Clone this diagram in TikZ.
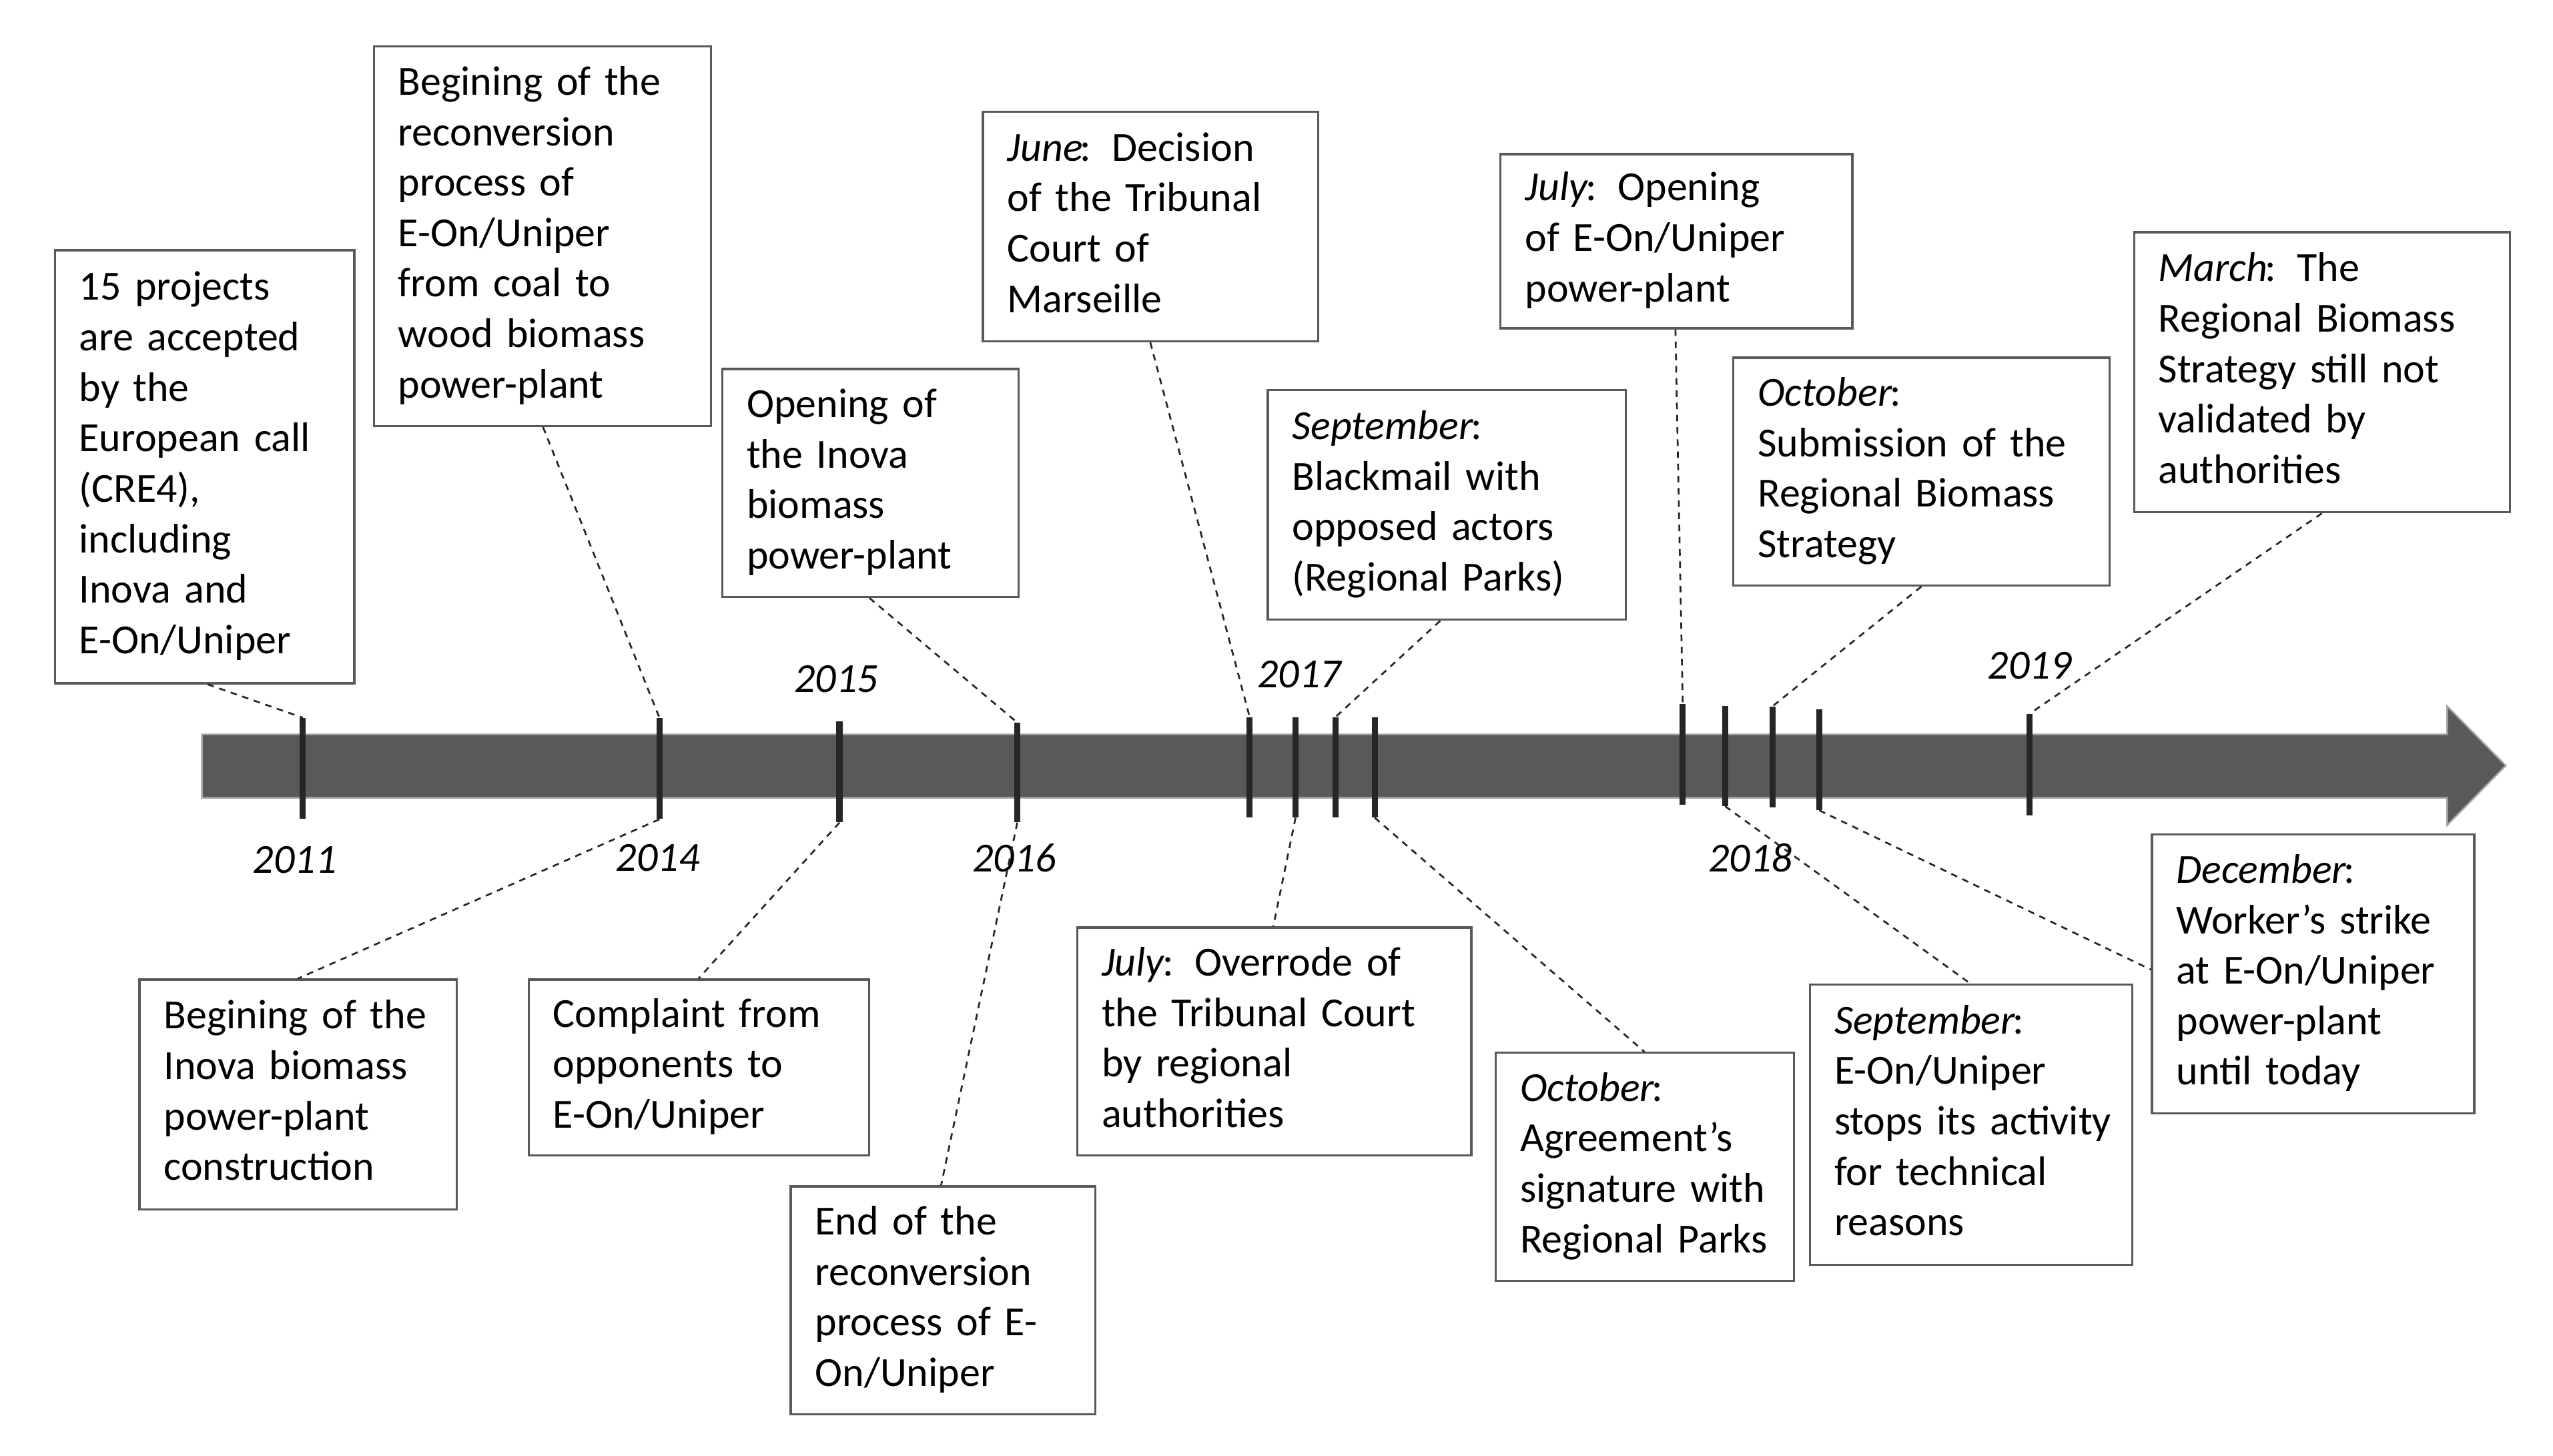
\documentclass[tikz,border=0pt]{standalone}
\usepackage{fontspec}
\setmainfont{Carlito}
\usetikzlibrary{calc}
\definecolor{shaft}{HTML}{595959}
\definecolor{shaftedge}{HTML}{A6A6A6}
\definecolor{boxline}{HTML}{595959}
\definecolor{tickc}{HTML}{262626}
\newcommand{\evtext}[1]{\begin{tabular}{@{}l@{}}#1\end{tabular}}
\newcommand{\mon}[1]{{\itshape #1\/}\kern-1.5pt}
\begin{document}
\begin{tikzpicture}[x=1pt,y=-1pt,
  evbox/.style={draw=boxline, line width=1.3pt, anchor=north west, inner xsep=15pt, inner ysep=0pt,
    font=\fontsize{25.4}{31}\selectfont, text=black},
  tickmark/.style={fill=tickc, draw=none, inner sep=0pt, minimum width=3.8pt, rectangle},
  conn/.style={draw=black!85, line width=1.1pt, dash pattern=on 4pt off 3.5pt},
  yr/.style={font=\fontsize{25.4}{31}\selectfont\itshape, inner sep=0pt}
]
\useasboundingbox (0,0) rectangle (1568,894);
\fill[white] (0,0) rectangle (1568,894);

% timeline arrow
\path[fill=shaft, draw=shaftedge, line width=1pt]
  (124,451) -- (1503,451) -- (1503,433.7) -- (1539,470.2) -- (1503,506.8) -- (1503,490) -- (124,490) -- cycle;

% ticks
\node[tickmark, minimum height=62pt] (t2011) at (186,472) {};
\node[tickmark, minimum height=62pt] (t2014) at (405,472) {};
\node[tickmark, minimum height=62pt] (t2015) at (515.6,474) {};
\node[tickmark, minimum height=61pt] (t2016) at (624.8,474.5) {};
\node[tickmark, minimum height=61.4pt] (t17a) at (767.5,471.3) {};
\node[tickmark, minimum height=61.4pt] (t17b) at (795.7,471.3) {};
\node[tickmark, minimum height=61.4pt] (t17c) at (820.2,471.3) {};
\node[tickmark, minimum height=61.4pt] (t17d) at (844.3,471.3) {};
\node[tickmark, minimum height=62pt] (t18a) at (1033.5,463.4) {};
\node[tickmark, minimum height=61.3pt] (t18b) at (1059.5,464.3) {};
\node[tickmark, minimum height=62pt] (t18c) at (1088.6,465) {};
\node[tickmark, minimum height=62pt] (t18d) at (1117.3,466.5) {};
\node[tickmark, minimum height=62.2pt] (t2019) at (1246.6,469.6) {};

% year labels
\node[yr] (y2011) at (181,528) {2011};
\node[yr] (y2014) at (404,527) {2014};
\node[yr] (y2015) at (513.5,417) {2015};
\node[yr] (y2016) at (623,527) {2016};
\node[yr] (y2017) at (798,414) {2017};
\node[yr] (y2018) at (1075,527) {2018};
\node[yr] (y2019) at (1246.5,409) {2019};

% boxes above
\node[evbox, text width=154pt, minimum width=184pt, minimum height=266pt] (b1) at (33,153)
  {\evtext{15 projects\\are accepted\\by the\\European call\\(CRE4),\\including\\Inova and\\E-On/Uniper}};
\node[evbox, text width=177pt, minimum width=207pt, minimum height=233pt] (b2) at (229,28)
  {\evtext{Begining of the\\reconversion\\process of\\E-On/Uniper\\from coal to\\wood biomass\\power-plant}};
\node[evbox, text width=152pt, minimum width=182pt, minimum height=140pt] (b3) at (443,226)
  {\evtext{Opening of\\the Inova\\biomass\\power-plant}};
\node[evbox, text width=176pt, minimum width=206pt, minimum height=141pt] (b4) at (603,68)
  {\evtext{\mon{June}: Decision\\of the Tribunal\\Court of\\Marseille}};
\node[evbox, text width=186pt, minimum width=216pt, minimum height=107pt] (b5) at (921,94)
  {\evtext{\mon{July}: Opening\\of E-On/Uniper\\power-plant}};
\node[evbox, text width=190pt, minimum width=220pt, minimum height=141pt] (b6) at (778,239)
  {\evtext{\mon{September}:\\Blackmail with\\opposed actors\\(Regional Parks)}};
\node[evbox, text width=201pt, minimum width=231pt, minimum height=140pt] (b7) at (1064,219)
  {\evtext{\mon{October}:\\Submission of the\\Regional Biomass\\Strategy}};
\node[evbox, text width=201pt, minimum width=231pt, minimum height=172pt] (b8) at (1310,142)
  {\evtext{\mon{March}: The\\Regional Biomass\\Strategy still not\\validated by\\authorities}};

% boxes below
\node[evbox, text width=165pt, minimum width=195pt, minimum height=141pt] (b9) at (85,601)
  {\evtext{Begining of the\\Inova biomass\\power-plant\\construction}};
\node[evbox, text width=179pt, minimum width=209pt, minimum height=108pt] (b10) at (324,601)
  {\evtext{Complaint from\\opponents to\\E-On/Uniper}};
\node[evbox, text width=157pt, minimum width=187pt, minimum height=140pt] (b11) at (485,728)
  {\evtext{End of the\\reconversion\\process of E-\\On/Uniper}};
\node[evbox, text width=212pt, minimum width=242pt, minimum height=140pt] (b12) at (661,569)
  {\evtext{\mon{July}: Overrode of\\the Tribunal Court\\by regional\\authorities}};
\node[evbox, text width=153pt, minimum width=183pt, minimum height=140pt] (b13) at (918,646)
  {\evtext{\mon{October}:\\Agreement’s\\signature with\\Regional Parks}};
\node[evbox, text width=168pt, minimum width=198pt, minimum height=172pt] (b14) at (1111,604)
  {\evtext{\mon{September}:\\E-On/Uniper\\stops its activity\\for technical\\reasons}};
\node[evbox, text width=168pt, minimum width=198pt, minimum height=171pt] (b15) at (1321,512)
  {\evtext{\mon{December}:\\Worker’s strike\\at E-On/Uniper\\power-plant\\until today}};

% connectors above
\draw[conn] ([xshift=94.5pt]b1.south west) -- (t2011.north);
\draw[conn] ([xshift=104.5pt]b2.south west) -- (t2014.north);
\draw[conn] ([xshift=91pt]b3.south west) -- (t2016.north);
\draw[conn] ([xshift=103.5pt]b4.south west) -- (t17a.north);
\draw[conn] ([xshift=106.5pt]b6.south west) -- (t17c.north);
\draw[conn] ([xshift=108pt]b5.south west) -- (t18a.north);
\draw[conn] ([xshift=116pt]b7.south west) -- (t18c.north);
\draw[conn] ([xshift=116pt]b8.south west) -- (t2019.north);

% connectors below
\draw[conn] (t2014.south) -- ([xshift=98pt]b9.north west);
\draw[conn] (t2015.south) -- ([xshift=105pt]b10.north west);
\draw[conn] (t2016.south) -- ([xshift=93pt]b11.north west);
\draw[conn] (t17b.south) -- ([xshift=121pt]b12.north west);
\draw[conn] (t17d.south) -- ([xshift=92pt]b13.north west);
\draw[conn] (t18b.south) -- ([xshift=99pt]b14.north west);
\draw[conn] (t18d.south) -- ([yshift=-83.5pt]b15.north west);
\end{tikzpicture}
\end{document}
